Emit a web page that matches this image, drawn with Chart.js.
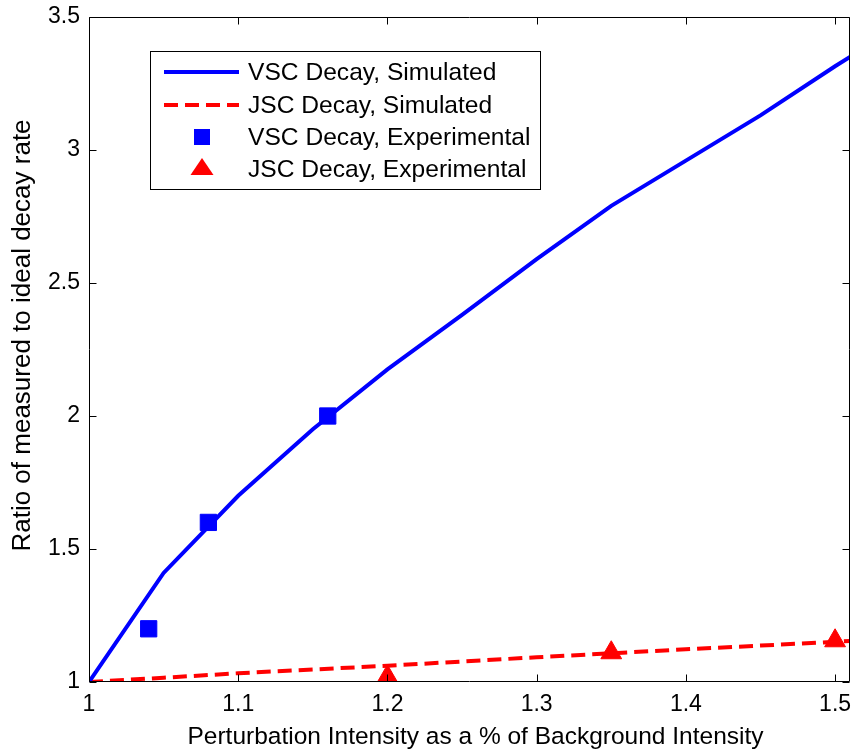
<!DOCTYPE html>
<html>
<head>
<meta charset="utf-8">
<script src="https://cdn.jsdelivr.net/npm/chart.js@4/dist/chart.umd.min.js"></script>
<style>
  html, body { margin: 0; padding: 0; background: #ffffff; }
  #wrap { width: 854px; height: 749px; }
</style>
</head>
<body>
<div id="wrap"><canvas id="c" width="854" height="749"></canvas></div>
<script>
// Simulated decay-rate ratios (sampled on a common intensity grid)
const simX   = [1.00, 1.05, 1.10, 1.15, 1.20, 1.25, 1.30, 1.35, 1.40, 1.45, 1.50, 1.51];
const vscSim = [1.00, 1.41, 1.70, 1.95, 2.175, 2.38, 2.59, 2.79, 2.96, 3.13, 3.315, 3.35];
const jscSim = [1.00, 1.016, 1.033, 1.047, 1.061, 1.077, 1.093, 1.108, 1.123, 1.137, 1.151, 1.154];

// Experimental measurements
const vscExpX = [1.04, 1.08, 1.16];
const vscExp  = [1.20, 1.60, 2.00];
const jscExpX = [1.20, 1.35, 1.50];
const jscExp  = [1.02, 1.11, 1.155];

// Axis limits and tick spacing
const xLimits = [1, 1.51];
const xStep = 0.1;
const yLimits = [1, 3.5];
const yStep = 0.5;

const seriesNames = [
  'VSC Decay, Simulated',
  'JSC Decay, Simulated',
  'VSC Decay, Experimental',
  'JSC Decay, Experimental'
];
const xTitle = 'Perturbation Intensity as a % of Background Intensity';
const yTitle = 'Ratio of measured to ideal decay rate';

const FONT = "'Liberation Sans', Arial, Helvetica, sans-serif";
const BLUE = '#0000ff';
const RED = '#ff0000';

const pairs = (xs, ys) => xs.map((v, i) => ({ x: v, y: ys[i] }));

// Axes box with inward tick marks on all four sides
const boxPlugin = {
  id: 'boxTicks',
  afterDatasetsDraw(chart) {
    const { ctx, chartArea: a, scales: { x, y } } = chart;
    const L = Math.round(a.left) + 0.5, R = Math.round(a.right) - 0.5;
    const T = Math.round(a.top) + 0.5, B = Math.round(a.bottom) - 0.5;
    const len = 7;
    ctx.save();
    ctx.strokeStyle = '#000';
    ctx.lineWidth = 1;
    ctx.beginPath();
    ctx.rect(L, T, R - L, B - T);
    x.ticks.forEach(t => {
      const px = Math.round(x.getPixelForValue(t.value)) + 0.5;
      ctx.moveTo(px, B); ctx.lineTo(px, B - len);
      ctx.moveTo(px, T); ctx.lineTo(px, T + len);
    });
    y.ticks.forEach(t => {
      const py = Math.round(y.getPixelForValue(t.value)) + 0.5;
      ctx.moveTo(L, py); ctx.lineTo(L + len, py);
      ctx.moveTo(R, py); ctx.lineTo(R - len, py);
    });
    ctx.stroke();
    ctx.restore();
  }
};

// Axis titles
const titlePlugin = {
  id: 'axisTitles',
  afterDraw(chart) {
    const { ctx, chartArea: a } = chart;
    ctx.save();
    ctx.fillStyle = '#000';
    ctx.textAlign = 'center';
    ctx.textBaseline = 'middle';
    ctx.font = '24.5px ' + FONT;
    ctx.fillText(xTitle, (a.left + a.right) / 2 + 6, 737);
    ctx.translate(23, (a.top + a.bottom) / 2 - 14);
    ctx.rotate(-Math.PI / 2);
    ctx.font = '26px ' + FONT;
    ctx.fillText(yTitle, 0, 0);
    ctx.restore();
  }
};

// Boxed legend in the upper-left part of the plot
const legendPlugin = {
  id: 'boxLegend',
  afterDraw(chart) {
    const { ctx } = chart;
    const ds = chart.data.datasets;
    const bx = 150.5, by = 51.5, bw = 390, bh = 138;
    ctx.save();
    ctx.fillStyle = '#fff';
    ctx.fillRect(bx, by, bw, bh);
    ctx.strokeStyle = '#000';
    ctx.lineWidth = 1;
    ctx.strokeRect(bx, by, bw, bh);

    const rowY = [72, 105, 137, 169];
    const sx0 = 164, sx1 = 239, mx = 202, tx = 248;
    ds.forEach((d, i) => {
      const yy = rowY[i];
      if (d.showLine !== false) {
        ctx.beginPath();
        ctx.strokeStyle = d.borderColor;
        ctx.lineWidth = d.borderWidth;
        ctx.setLineDash(d.borderDash || []);
        ctx.moveTo(sx0, yy); ctx.lineTo(sx1, yy);
        ctx.stroke();
        ctx.setLineDash([]);
      } else if (d.pointStyle === 'rect') {
        ctx.fillStyle = d.backgroundColor;
        ctx.fillRect(mx - 8, yy - 8, 16, 16);
      } else {
        ctx.fillStyle = d.backgroundColor;
        ctx.beginPath();
        ctx.moveTo(mx, yy - 11);
        ctx.lineTo(mx + 11.5, yy + 6);
        ctx.lineTo(mx - 11.5, yy + 6);
        ctx.closePath();
        ctx.fill();
      }
      ctx.fillStyle = '#000';
      ctx.font = '24.6px ' + FONT;
      ctx.textAlign = 'left';
      ctx.textBaseline = 'middle';
      ctx.fillText(d.label, tx, yy + 1);
    });
    ctx.restore();
  }
};

const fmt = v => String(+Number(v).toFixed(2));

// Fixed axis sizes so the plot area stays put
const fixPad = s => { s.paddingLeft = 0; s.paddingRight = 0; s.paddingTop = 0; s.paddingBottom = 0; };

new Chart(document.getElementById('c'), {
  type: 'scatter',
  data: {
    datasets: [
      {
        label: seriesNames[0],
        data: pairs(simX, vscSim),
        showLine: true,
        borderColor: BLUE,
        backgroundColor: BLUE,
        borderWidth: 4,
        pointRadius: 0,
        tension: 0,
        order: 2
      },
      {
        label: seriesNames[1],
        data: pairs(simX, jscSim),
        showLine: true,
        borderColor: RED,
        backgroundColor: RED,
        borderWidth: 4,
        borderDash: [14, 7],
        pointRadius: 0,
        tension: 0,
        order: 2
      },
      {
        label: seriesNames[2],
        data: pairs(vscExpX, vscExp),
        showLine: false,
        pointStyle: 'rect',
        pointRadius: 11.5,
        borderWidth: 1,
        borderColor: BLUE,
        backgroundColor: BLUE,
        order: 1
      },
      {
        label: seriesNames[3],
        data: pairs(jscExpX, jscExp),
        showLine: false,
        pointStyle: 'triangle',
        pointRadius: 12,
        borderWidth: 1,
        borderColor: RED,
        backgroundColor: RED,
        order: 1
      }
    ]
  },
  options: {
    responsive: false,
    animation: false,
    devicePixelRatio: 1,
    layout: { autoPadding: false, padding: { top: 17, right: 4, left: 0, bottom: 0 } },
    plugins: {
      legend: { display: false },
      tooltip: { enabled: false }
    },
    scales: {
      x: {
        type: 'linear',
        min: xLimits[0],
        max: xLimits[1],
        border: { display: false },
        grid: { display: false, drawTicks: false },
        ticks: {
          stepSize: xStep,
          includeBounds: false,
          padding: 9,
          color: '#000',
          font: { family: FONT, size: 23 },
          maxRotation: 0,
          callback: fmt
        },
        title: { display: false, text: xTitle },
        afterFit(scale) { scale.height = 67; fixPad(scale); }
      },
      y: {
        type: 'linear',
        min: yLimits[0],
        max: yLimits[1],
        border: { display: false },
        grid: { display: false, drawTicks: false },
        ticks: {
          stepSize: yStep,
          includeBounds: false,
          padding: 9,
          color: '#000',
          font: { family: FONT, size: 23 },
          callback: fmt
        },
        title: { display: false, text: yTitle },
        afterFit(scale) { scale.width = 89; fixPad(scale); }
      }
    }
  },
  plugins: [boxPlugin, titlePlugin, legendPlugin]
});
</script>
</body>
</html>
